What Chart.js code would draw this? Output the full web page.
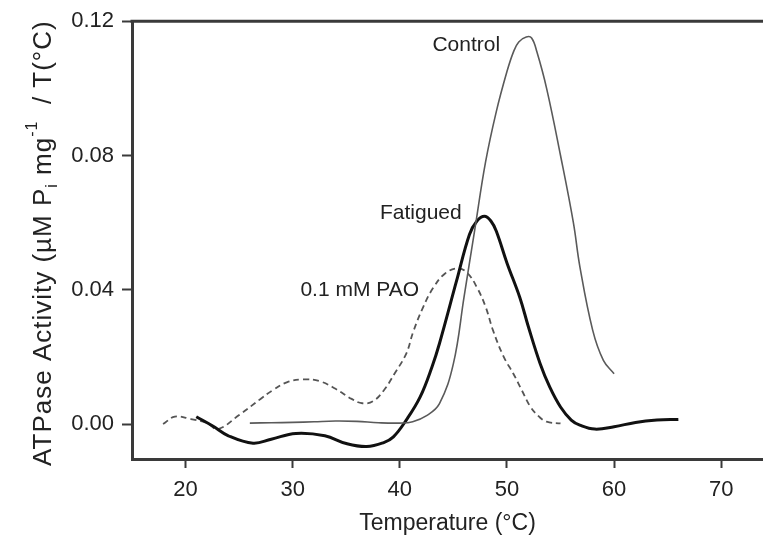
<!DOCTYPE html>
<html>
<head>
<meta charset="utf-8">
<script src="https://cdn.jsdelivr.net/npm/chart.js@4.4.1/dist/chart.umd.min.js"></script>
<style>
    body { margin: 0; background: #fff; }
    #wrap { width: 763px; height: 540px; position: relative; }
</style>
</head>
<body>
<div id="wrap"><canvas id="myChart"></canvas></div>
<script>
// temperature (°C) / activity readings taken off the figure
const controlTemps = [26, 28, 30, 32, 34, 36, 38, 40, 41.2, 42.5, 43.7, 45, 46, 47, 48, 49, 50, 50.6, 51.1, 51.8, 52.3, 52.8, 53.7, 55, 56.2, 56.8, 58, 59, 60];
const controlValues = [0.0003, 0.0004, 0.0005, 0.0007, 0.0009, 0.0008, 0.0004, 0.0003, 0.0007, 0.0025, 0.0061, 0.018, 0.038, 0.058, 0.078, 0.093, 0.105, 0.1108, 0.1138, 0.1153, 0.115, 0.1108, 0.100, 0.080, 0.060, 0.047, 0.028, 0.019, 0.015];

const fatiguedTemps = [21, 22.5, 24, 26.3, 28, 30.3, 33, 35, 36.9, 38.5, 39.4, 40.6, 41.9, 43, 43.7, 45.3, 46.5, 47.2, 47.9, 48.5, 49, 50, 51.2, 52, 53.1, 54, 55, 56, 56.8, 58.2, 60, 62, 64, 66];
const fatiguedValues = [0.0022, -0.0005, -0.0035, -0.0057, -0.0045, -0.0028, -0.0035, -0.0058, -0.0067, -0.0055, -0.0038, 0.0012, 0.0081, 0.017, 0.024, 0.0427, 0.0565, 0.0605, 0.0619, 0.0605, 0.0575, 0.048, 0.0377, 0.029, 0.018, 0.011, 0.0051, 0.0012, -0.0003, -0.0015, -0.0008, 0.0005, 0.0012, 0.0014];

const paoTemps = [17.9, 19, 20.5, 22, 23, 25, 27, 28.1, 29.5, 31, 32.5, 34, 35.5, 36.5, 37.5, 38.5, 39.5, 40.6, 41.25, 42.2, 43.1, 44.2, 45.4, 46.3, 47.2, 48, 48.7, 49.7, 50.6, 51.4, 52.2, 53, 53.7, 55];
const paoValues = [0.0, 0.0022, 0.0015, 0.0003, -0.0015, 0.0027, 0.0075, 0.010, 0.0125, 0.0133, 0.0128, 0.0105, 0.0075, 0.0062, 0.0068, 0.010, 0.015, 0.021, 0.0275, 0.035, 0.0405, 0.0448, 0.0464, 0.045, 0.0407, 0.035, 0.0279, 0.020, 0.015, 0.010, 0.0051, 0.0022, 0.0007, 0.0002];

const xTicks = [20, 30, 40, 50, 60, 70];
const yTicks = [0.00, 0.04, 0.08, 0.12];

// curve labels, placed in data units
const labelNames = ['Control', 'Fatigued', '0.1 mM PAO'];
const labelTemps = [46.2, 41.96, 36.26];
const labelValues = [0.1129, 0.0628, 0.040];

function toPoints(xs, ys) {
    return xs.map((x, i) => ({ x: x, y: ys[i] }));
}

const AXIS = '#3a3a3a';
const TEXT = '#222';
const FONT = 'Liberation Sans, Arial, Helvetica, sans-serif';

const extrasPlugin = {
    id: 'extras',
    afterDraw(chart) {
        const ctx = chart.ctx;
        const area = chart.chartArea;
        const xs = chart.scales.x;
        const ys = chart.scales.y;
        ctx.save();

        // top frame line
        ctx.strokeStyle = AXIS;
        ctx.lineWidth = 3;
        ctx.beginPath();
        ctx.moveTo(area.left - 1.5, area.top);
        ctx.lineTo(chart.width, area.top);
        ctx.stroke();

        // curve labels
        ctx.fillStyle = TEXT;
        ctx.font = '21px ' + FONT;
        ctx.textAlign = 'center';
        ctx.textBaseline = 'middle';
        for (let i = 0; i < labelNames.length; i++) {
            ctx.fillText(labelNames[i], xs.getPixelForValue(labelTemps[i]), ys.getPixelForValue(labelValues[i]));
        }

        // y title with subscript / superscript
        const parts = [
            { t: 'ATPase Activity (\u00b5M P', s: 26, dy: 0 },
            { t: 'i', s: 16, dy: 6 },
            { t: ' mg', s: 26, dy: 0 },
            { t: '-1', s: 16, dy: -14 },
            { t: '  / T(\u00b0C)', s: 26, dy: 0 }
        ];
        ctx.letterSpacing = '1px';
        let total = 0;
        for (const p of parts) {
            ctx.font = p.s + 'px ' + FONT;
            p.w = ctx.measureText(p.t).width;
            total += p.w;
        }
        const cy = (area.top + area.bottom) / 2 + 3;
        ctx.translate(51, cy);
        ctx.rotate(-Math.PI / 2);
        ctx.textAlign = 'left';
        ctx.textBaseline = 'alphabetic';
        let px = -total / 2;
        for (const p of parts) {
            ctx.font = p.s + 'px ' + FONT;
            ctx.fillText(p.t, px, p.dy);
            px += p.w;
        }
        ctx.restore();
    }
};

const ctx = document.getElementById('myChart').getContext('2d');
const myChart = new Chart(ctx, {
    type: 'scatter',
    data: {
        datasets: [
            {
                label: 'Control',
                data: toPoints(controlTemps, controlValues),
                showLine: true,
                borderColor: '#5a5a5a',
                borderWidth: 1.6,
                pointRadius: 0,
                tension: 0.4
            },
            {
                label: 'Fatigued',
                data: toPoints(fatiguedTemps, fatiguedValues),
                showLine: true,
                borderColor: '#111',
                borderWidth: 3,
                pointRadius: 0,
                tension: 0.4
            },
            {
                label: '0.1 mM PAO',
                data: toPoints(paoTemps, paoValues),
                showLine: true,
                borderColor: '#555',
                borderWidth: 1.8,
                borderDash: [6, 4],
                pointRadius: 0,
                tension: 0.4
            }
        ]
    },
    options: {
        responsive: true,
        maintainAspectRatio: false,
        animation: false,
        layout: { padding: { top: 19, right: 0, left: 0, bottom: 0 } },
        plugins: {
            legend: { display: false },
            tooltip: { enabled: false }
        },
        scales: {
            x: {
                type: 'linear',
                min: 15,
                max: 73.9,
                afterBuildTicks: (scale) => { scale.ticks = xTicks.map(v => ({ value: v })); },
                afterFit: (scale) => { scale.height = 81; },
                border: { display: true, color: AXIS, width: 3 },
                grid: { drawOnChartArea: false, drawTicks: true, tickLength: 9, tickWidth: 2, tickColor: AXIS },
                ticks: { color: TEXT, font: { size: 22, family: FONT }, padding: 9, maxRotation: 0 },
                title: { display: true, text: 'Temperature (\u00b0C)', color: TEXT, font: { size: 23, family: FONT }, padding: { top: 0, bottom: 3 } }
            },
            y: {
                type: 'linear',
                min: -0.0104,
                max: 0.12,
                afterBuildTicks: (scale) => { scale.ticks = yTicks.map(v => ({ value: v })); },
                afterFit: (scale) => { scale.width = 132; },
                border: { display: true, color: AXIS, width: 3 },
                grid: { drawOnChartArea: false, drawTicks: true, tickLength: 10, tickWidth: 2, tickColor: AXIS },
                ticks: { color: TEXT, font: { size: 22, family: FONT }, padding: 8, callback: (v) => Number(v).toFixed(2) }
            }
        }
    },
    plugins: [extrasPlugin]
});
</script>
</body>
</html>
